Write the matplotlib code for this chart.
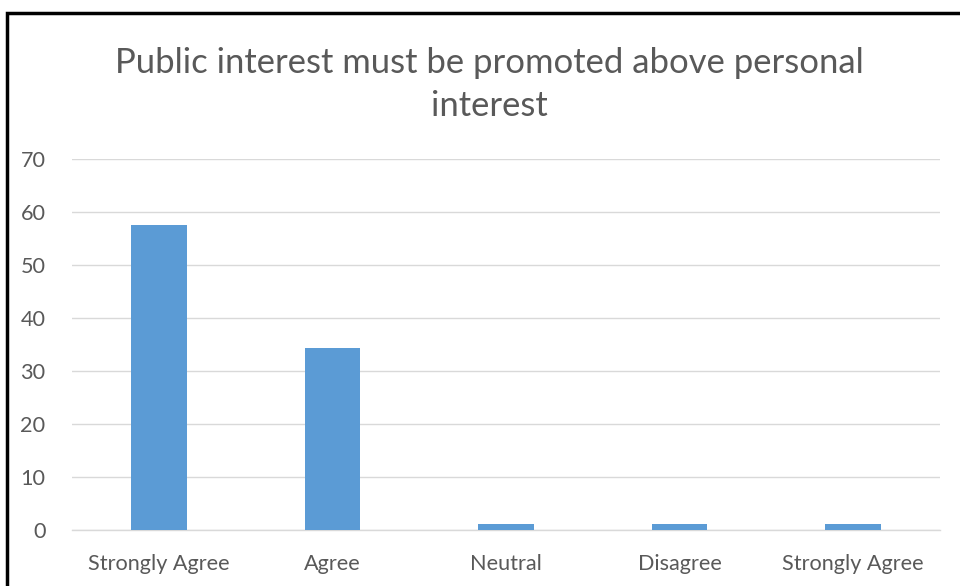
import matplotlib
matplotlib.use("Agg")
import matplotlib.pyplot as plt
from matplotlib.patches import Rectangle

categories = ["Strongly Agree", "Agree", "Neutral", "Disagree", "Strongly Agree"]
values = [57.5, 34.4, 1.1, 1.1, 1.1]
yticks = [0, 10, 20, 30, 40, 50, 60, 70]
title = "Public interest must be promoted above personal\ninterest"

plt.rcParams["font.family"] = ["Lato", "DejaVu Sans"]
text_color = "#595959"
bar_color = "#5B9BD5"
grid_color = "#D9D9D9"

W, H = 960, 586
fig = plt.figure(figsize=(W / 100, H / 100), dpi=100)
ax = fig.add_axes([72 / W, 1 - 530 / H, (940 - 72) / W, (530 - 159) / H])

x = list(range(len(categories)))
ax.bar(x, values, width=0.32, color=bar_color, zorder=3)

ax.set_xlim(-0.5, len(categories) - 0.5)
ax.set_ylim(0, 70)
ax.set_yticks(yticks)
ax.set_xticks(x)
ax.set_xticklabels(categories)
ax.tick_params(axis="both", length=0, colors=text_color, labelsize=15.6)
ax.tick_params(axis="x", pad=17)
ax.tick_params(axis="y", pad=19)
ax.yaxis.grid(True, color=grid_color, linewidth=1, zorder=0)
for s in ["top", "right", "left"]:
    ax.spines[s].set_visible(False)
ax.spines["bottom"].set_color(grid_color)
ax.spines["bottom"].set_linewidth(1)

fig.text(489.5 / W, 1 - 84.5 / H, title, ha="center", va="center",
         fontsize=24.9, color=text_color, linespacing=1.45)

# chart frame
fig.patches.append(Rectangle((7 / W, -0.1), 1.2, 1 - 13 / H + 0.1,
                             transform=fig.transFigure, fill=False,
                             edgecolor="black", linewidth=2.5))

fig.savefig("out.png", dpi=100, facecolor="white")
